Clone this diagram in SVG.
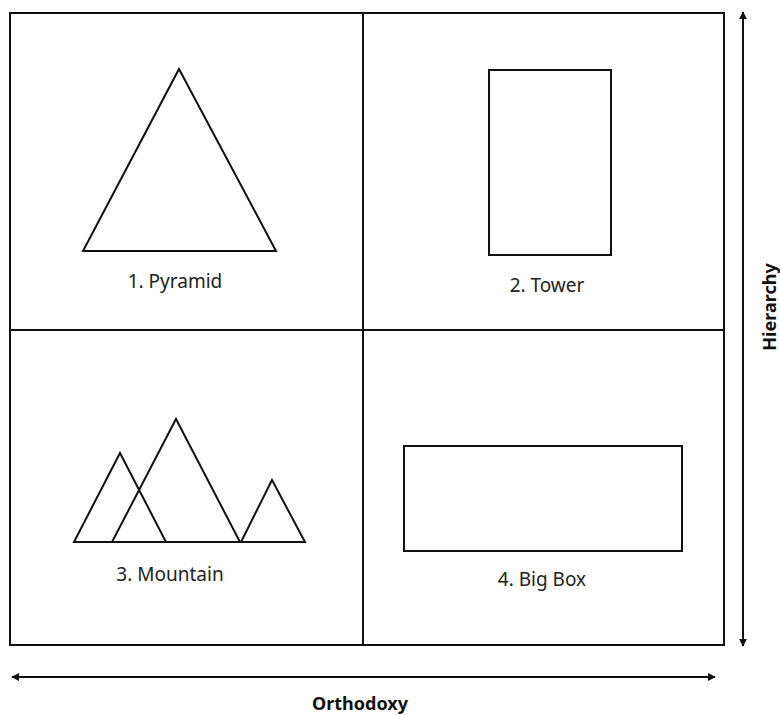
<svg xmlns="http://www.w3.org/2000/svg" width="780" height="715" viewBox="0 0 780 715">
<defs>
<marker id="ah" viewBox="0 0 10 10" refX="9" refY="5" markerWidth="8" markerHeight="8" markerUnits="userSpaceOnUse" orient="auto-start-reverse">
<path d="M0,0 L10,5 L0,10 z" fill="#111"/>
</marker>
</defs>
<style>
.s{fill:#fff;stroke:#111;stroke-width:2;stroke-linejoin:miter}
.m{fill:none;stroke:#111;stroke-width:2;stroke-linejoin:miter}
.l{fill:none;stroke:#111;stroke-width:2}
.t{font-family:"Noto Sans","Liberation Sans",sans-serif;font-size:19px;fill:#222;text-anchor:middle}
.b{font-family:"Noto Sans","Liberation Sans",sans-serif;font-size:18px;font-weight:bold;fill:#111;text-anchor:middle}
</style>
<rect width="780" height="715" fill="#fff"/>
<g id="grid">
<rect x="10" y="13" width="714" height="632" class="l"/>
<line x1="363" y1="13" x2="363" y2="645" class="l" stroke-width="1.5"/>
<line x1="10" y1="330" x2="724" y2="330" class="l" stroke-width="1.5"/>
</g>
<g id="pyramid">
<polygon points="179,69 276,251 83,251" class="s"/>
<text x="175" y="288" class="t">1. Pyramid</text>
</g>
<g id="tower">
<rect x="489" y="70" width="122" height="185" class="s"/>
<text x="547" y="292" class="t">2. Tower</text>
</g>
<g id="mountain">
<polygon points="120,453 166,542 74,542" class="m"/>
<polygon points="176,419 240,542 112,542" class="m"/>
<polygon points="272,480 305,542 241,542" class="m"/>
<text x="170" y="581" class="t">3. Mountain</text>
</g>
<g id="bigbox">
<rect x="404" y="446" width="278" height="105" class="s"/>
<text x="542" y="586" class="t">4. Big Box</text>
</g>
<g id="connectors">
<line x1="743" y1="12" x2="743" y2="646" class="l" stroke-width="1.5" marker-start="url(#ah)" marker-end="url(#ah)"/>
<line x1="12" y1="677" x2="715" y2="677" class="l" stroke-width="1.5" marker-start="url(#ah)" marker-end="url(#ah)"/>
</g>
<g id="labels">
<text x="360" y="710" class="b">Orthodoxy</text>
<text x="0" y="0" class="b" transform="translate(776,307) rotate(-90)">Hierarchy</text>
</g>
</svg>
